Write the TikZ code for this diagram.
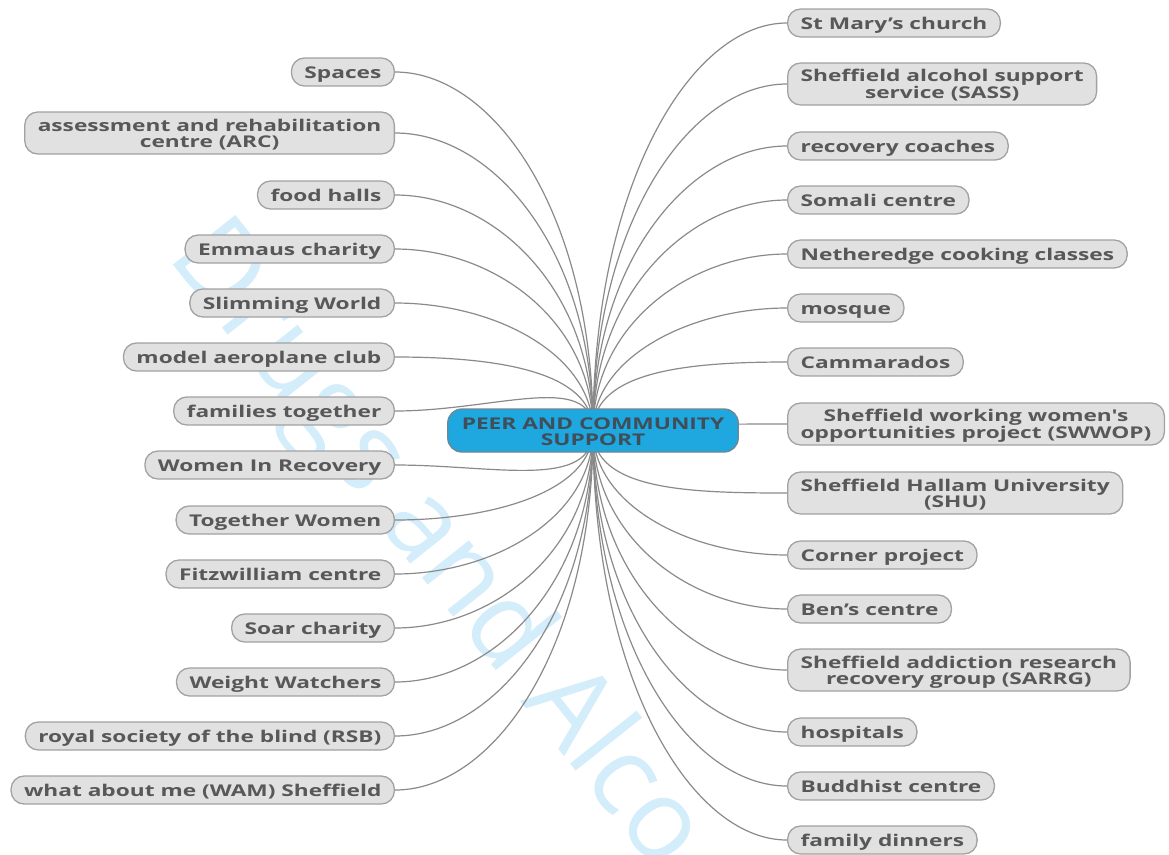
\documentclass[tikz,border=0pt]{standalone}
\usepackage{fontspec}
\newfontfamily\nodefont{Open Sans}[FakeStretch=1.40]
\newfontfamily\wmfont{Open Sans}
\pgfdeclarelayer{background}
\pgfdeclarelayer{watermark}
\pgfsetlayers{watermark,background,main}
\definecolor{nodefill}{HTML}{E1E1E1}
\definecolor{nodeborder}{HTML}{A2A2A2}
\definecolor{nodetext}{HTML}{585858}
\definecolor{centerfill}{HTML}{1FA7DF}
\definecolor{centerborder}{HTML}{6F8790}
\definecolor{centertext}{HTML}{3F4E59}
\definecolor{connline}{HTML}{8A8A8A}
\definecolor{wmblue}{HTML}{D4EDFA}
\tikzset{
  leaf/.style={draw=nodeborder, line width=1.3pt, fill=nodefill, rounded corners=13pt,
    text=nodetext, font=\nodefont\bfseries\fontsize{16.2}{16}\selectfont,
    inner xsep=13pt, inner ysep=5.5pt, minimum height=28pt, align=center,
    text height=14.5pt, text depth=2pt},
  twoline/.style={text height=30.3pt, text depth=0.7pt},
  lleaf/.style={leaf, anchor=east},
  rleaf/.style={leaf, anchor=west},
  hub/.style={draw=centerborder, line width=1.3pt, fill=centerfill, rounded corners=14pt,
    text=centertext, font=\nodefont\bfseries\fontsize{16.2}{16}\selectfont,
    inner xsep=14pt, inner ysep=5.5pt, align=center,
    text height=31.3pt, text depth=0.7pt},
  conn/.style={draw=connline, line width=1.2pt},
  wmark/.style={text=wmblue, font=\wmfont\fontsize{112}{112}\selectfont, inner sep=0pt}
}
\begin{document}
\begin{tikzpicture}[x=1pt,y=-1pt]
\useasboundingbox (0,0) rectangle (1169,854);
\begin{pgfonlayer}{watermark}
\node[wmark, anchor=base west, rotate=-51.5] (wm) at (166,256) {Drugs and Alco};
\end{pgfonlayer}

\node[hub] (C) at (593,430.5) {PEER AND COMMUNITY\\SUPPORT};

% left side
\node[lleaf] (l1)  at (395,72)  {Spaces};
\node[lleaf, twoline] (l2)  at (395,133) {assessment and rehabilitation\\centre (ARC)};
\node[lleaf] (l3)  at (395,195) {food halls};
\node[lleaf] (l4)  at (395,249) {Emmaus charity};
\node[lleaf] (l5)  at (395,303) {Slimming World};
\node[lleaf] (l6)  at (395,357) {model aeroplane club};
\node[lleaf] (l7)  at (395,411) {families together};
\node[lleaf] (l8)  at (395,465) {Women In Recovery};
\node[lleaf] (l9)  at (395,520) {Together Women};
\node[lleaf] (l10) at (395,574) {Fitzwilliam centre};
\node[lleaf] (l11) at (395,628) {Soar charity};
\node[lleaf] (l12) at (395,682) {Weight Watchers};
\node[lleaf] (l13) at (395,736) {royal society of the blind (RSB)};
\node[lleaf] (l14) at (395,790) {what about me (WAM) Sheffield};

% right side
\node[rleaf] (r1)  at (787,23)  {St Mary’s church};
\node[rleaf, twoline] (r2)  at (787,84)  {Sheffield alcohol support\\service (SASS)};
\node[rleaf] (r3)  at (787,146) {recovery coaches};
\node[rleaf] (r4)  at (787,200) {Somali centre};
\node[rleaf] (r5)  at (787,254) {Netheredge cooking classes};
\node[rleaf] (r6)  at (787,308) {mosque};
\node[rleaf] (r7)  at (787,362) {Cammarados};
\node[rleaf, twoline] (r8)  at (787,424) {Sheffield working women's\\opportunities project (SWWOP)};
\node[rleaf, twoline] (r9)  at (787,493) {Sheffield Hallam University\\(SHU)};
\node[rleaf] (r10) at (787,555) {Corner project};
\node[rleaf] (r11) at (787,609) {Ben’s centre};
\node[rleaf, twoline] (r12) at (787,670) {Sheffield addiction research\\recovery group (SARRG)};
\node[rleaf] (r13) at (787,732) {hospitals};
\node[rleaf] (r14) at (787,786) {Buddhist centre};
\node[rleaf] (r15) at (787,840) {family dinners};

\begin{pgfonlayer}{background}
\foreach \n/\b in {l1/-215,l2/-178,l3/-141,l4/-109,l5/-76,l6/-60,l7/-60,
                   l8/60,l9/60,l10/86,l11/119,l12/151,l13/184,l14/216}
  \draw[conn] (\n.east) .. controls +(100,0) and +(0,\b) .. (C.center);
\foreach \n/\b in {r1/-244,r2/-208,r3/-170,r4/-138,r5/-106,r6/-73,r7/-60,r8/-5,
                   r9/60,r10/75,r11/107,r12/144,r13/181,r14/214,r15/246}
  \draw[conn] (C.center) .. controls +(0,\b) and +(-97,0) .. (\n.west);
\end{pgfonlayer}
\end{tikzpicture}
\end{document}
